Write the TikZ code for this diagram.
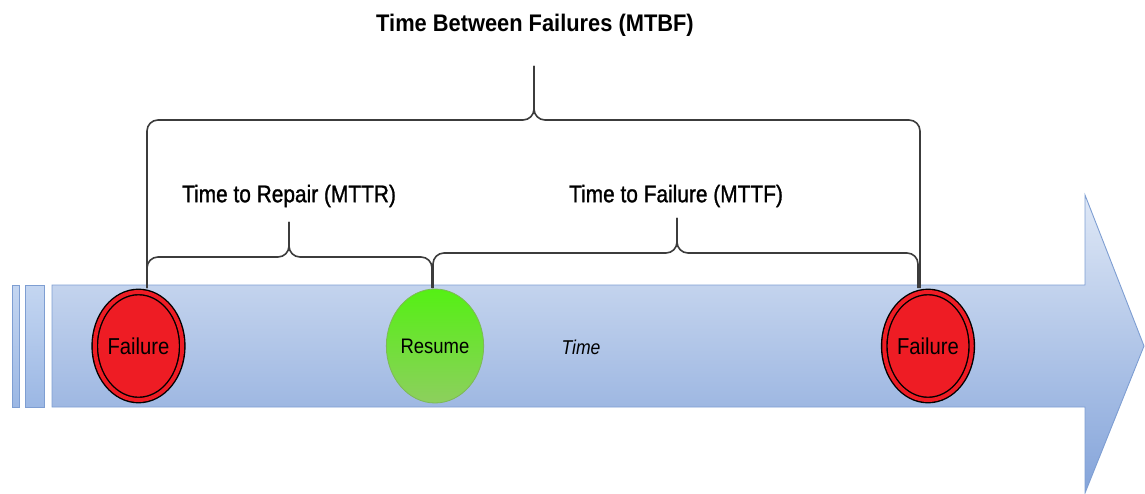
\documentclass[tikz,border=0pt]{standalone}
\usepackage{fontspec}
\usetikzlibrary{shapes.geometric}
\newfontfamily\labelfont[FakeStretch=0.88]{Liberation Sans}
\newfontfamily\subfont[FakeStretch=0.87,FakeBold=1.2]{Liberation Sans}
\newfontfamily\headfont[FakeStretch=0.91]{Liberation Sans}
\definecolor{failred}{HTML}{EE1C24}
\definecolor{bracegray}{HTML}{3C3C3C}
\definecolor{arrowedge}{HTML}{7E9ED2}
\definecolor{arrowtop}{HTML}{DFE8F6}
\definecolor{arrowbot}{HTML}{84A4DA}
\definecolor{bartop}{HTML}{C4D6F1}
\definecolor{barbot}{HTML}{9BB7E4}
\definecolor{resumetop}{HTML}{55F014}
\definecolor{resumebot}{HTML}{8DCF5E}
\definecolor{resumeedge}{HTML}{7DB955}
\tikzset{
  arrowbody/.style={draw=arrowedge, line width=0.9pt, top color=arrowtop, bottom color=arrowbot},
  sidebar/.style={draw=arrowedge, line width=0.9pt, top color=bartop, bottom color=barbot},
  failnode/.style={ellipse, draw=black, line width=1.4pt, double=failred,
    double distance=4pt, fill=failred, minimum width=87pt, minimum height=108pt,
    inner sep=0pt, font=\labelfont\fontsize{23}{26}\selectfont},
  resumenode/.style={ellipse, draw=resumeedge, line width=0.8pt, top color=resumetop,
    bottom color=resumebot, minimum width=95pt, minimum height=114pt, inner sep=0pt,
    font=\labelfont\fontsize{21}{24}\selectfont},
  brace/.style={draw=bracegray, line width=1.6pt, rounded corners=11pt},
  sublabel/.style={font=\subfont\fontsize{24}{28}\selectfont},
  headlabel/.style={font=\headfont\bfseries\fontsize{24}{28}\selectfont},
}
\begin{document}
\begin{tikzpicture}[x=1pt,y=-1pt]
\useasboundingbox (0,0) rectangle (1145,494);

% time axis: two short bars and the long arrow
\path[sidebar] (12,285) rectangle (19,407);
\path[sidebar] (25,285) rectangle (44,407);
\path[arrowbody] (52,285) -- (1085,285) -- (1085,195) -- (1144,346)
  -- (1085,493) -- (1085,407) -- (52,407) -- cycle;

% events on the axis
\node[failnode]   (f1)  at (138.5,346) {Failure};
\node[resumenode] (res) at (435,346) {Resume};
\node[failnode]   (f2)  at (928,346) {Failure};
\node[font=\labelfont\itshape\fontsize{20}{24}\selectfont] (time) at (581,347) {Time};

% labels
\node[headlabel] (mtbf) at (535,25) {Time Between Failures (MTBF)};
\node[sublabel]  (mttr) at (289,196) {Time to Repair (MTTR)};
\node[sublabel]  (mttf) at (676,196) {Time to Failure (MTTF)};

% brace feet and tips
\coordinate (f1top)  at (147,288);
\coordinate (restop) at (432,288);
\coordinate (restop2) at (433,288);
\coordinate (f2top)  at (918,288);
\coordinate (f2top2) at (920,288);
\coordinate (tipbf) at (534,66);
\coordinate (tiptr) at (289,222);
\coordinate (tiptf) at (677,218);

% MTBF brace
\draw[brace] (f1top) |- (tipbf |- 0,120) -- (tipbf);
\draw[brace] (tipbf) -- (tipbf |- 0,120) -| (f2top2);
% MTTR brace
\draw[brace] (f1top) |- (tiptr |- 0,257) -- (tiptr);
\draw[brace] (tiptr) -- (tiptr |- 0,257) -| (restop);
% MTTF brace
\draw[brace] (restop2) |- (tiptf |- 0,253) -- (tiptf);
\draw[brace] (tiptf) -- (tiptf |- 0,253) -| (f2top);
\end{tikzpicture}
\end{document}
